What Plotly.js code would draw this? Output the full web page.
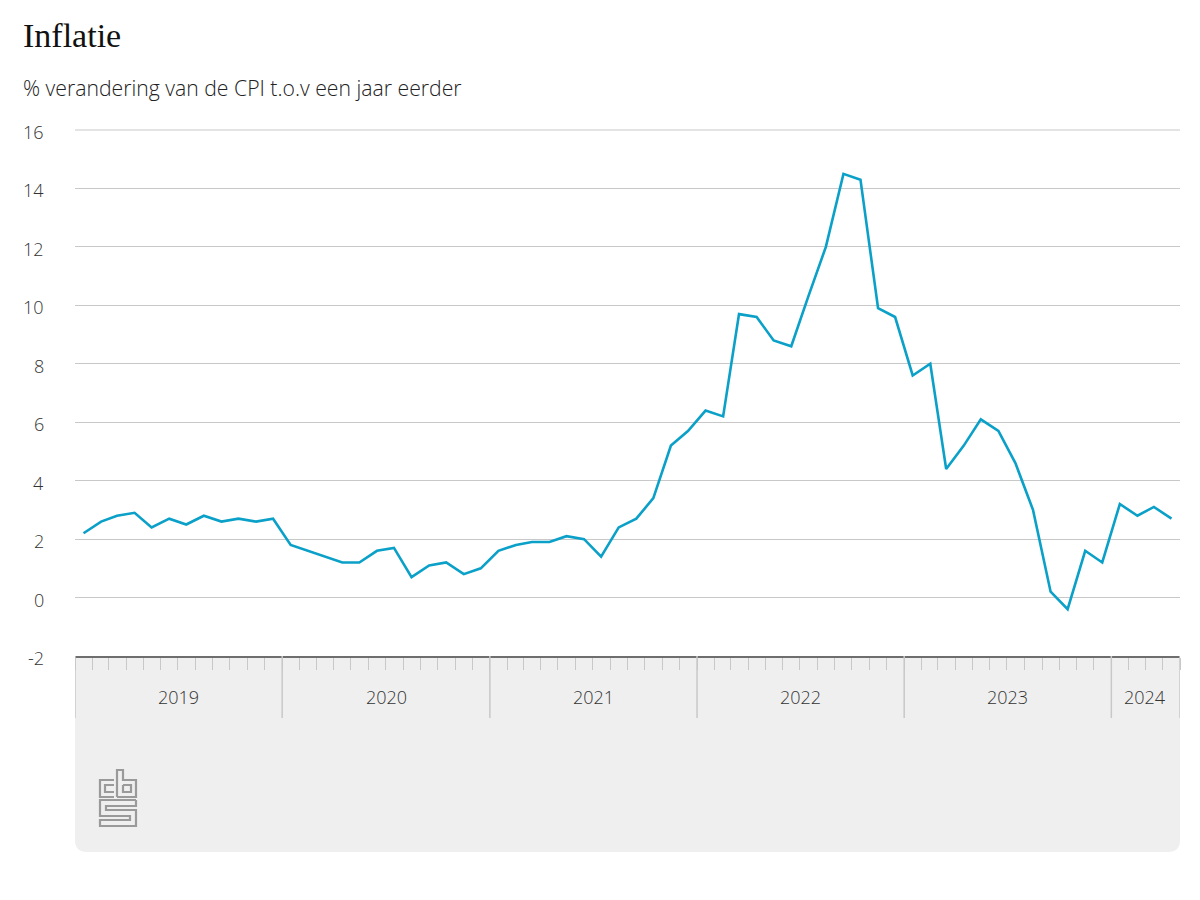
<!DOCTYPE html>
<html>
<head>
<meta charset="utf-8">
<script src="https://cdn.plot.ly/plotly-3.0.1.min.js"></script>
<style>
  html, body { margin: 0; padding: 0; background: #ffffff; }
  #chart { width: 1200px; height: 900px; }
</style>
</head>
<body>
<div id="chart"></div>
<script>
// ---- Data: CPI inflation, % change vs. one year earlier ----
const startMonth = '2019-01';
const inflatie2019 = [2.2, 2.6, 2.8, 2.9, 2.4, 2.7, 2.5, 2.8, 2.6, 2.7, 2.6, 2.7];
const inflatie2020 = [1.8, 1.6, 1.4, 1.2, 1.2, 1.6, 1.7, 0.7, 1.1, 1.2, 0.8, 1.0];
const inflatie2021 = [1.6, 1.8, 1.9, 1.9, 2.1, 2.0, 1.4, 2.4, 2.7, 3.4, 5.2, 5.7];
const inflatie2022 = [6.4, 6.2, 9.7, 9.6, 8.8, 8.6, 10.3, 12.0, 14.5, 14.3, 9.9, 9.6];
const inflatie2023 = [7.6, 8.0, 4.4, 5.2, 6.1, 5.7, 4.6, 3.0, 0.2, -0.4, 1.6, 1.2];
const inflatie2024 = [3.2, 2.8, 3.1, 2.7];
const jaren = ['2019', '2020', '2021', '2022', '2023', '2024'];
const yTicks = [-2, 0, 2, 4, 6, 8, 10, 12, 14, 16];
const yTickText = ['-2', '0', '2', '4', '6', '8', '10', '12', '14', '16'];

const waarden = [].concat(inflatie2019, inflatie2020, inflatie2021, inflatie2022, inflatie2023, inflatie2024);

// month dates (mid-month positions)
function pad(n) { return (n < 10 ? '0' : '') + n; }
const maanden = [];
{
  let y = parseInt(startMonth.slice(0, 4)), m = parseInt(startMonth.slice(5, 7));
  for (let i = 0; i < waarden.length; i++) {
    maanden.push(y + '-' + pad(m) + '-16');
    m++; if (m > 12) { m = 1; y++; }
  }
}
const lastY = parseInt(maanden[maanden.length - 1].slice(0, 4));
const lastM = parseInt(maanden[maanden.length - 1].slice(5, 7));
const endDate = (lastM === 12 ? (lastY + 1) + '-01' : lastY + '-' + pad(lastM + 1)) + '-01';
const startDate = startMonth + '-01';

// ---- pixel -> paper helpers for decorations ----
const W = 1200, H = 900;
const M = { l: 75, r: 20, t: 130, b: 244 };
const PW = W - M.l - M.r, PH = H - M.t - M.b;
const px = x => (x - M.l) / PW;
const py = y => (H - M.b - y) / PH;
function pathFromPts(pts) {
  return pts.map((p, i) => (i === 0 ? 'M' : 'L') + px(p[0]).toFixed(5) + ',' + py(p[1]).toFixed(5)).join(' ');
}

const shapes = [];
// grey footer box with rounded bottom corners
{
  const x0 = 75, x1 = 1180, y0 = 656, y1 = 852, r = 12;
  const d = 'M' + px(x0) + ',' + py(y0) +
    ' L' + px(x1) + ',' + py(y0) +
    ' L' + px(x1) + ',' + py(y1 - r) +
    ' Q' + px(x1) + ',' + py(y1) + ' ' + px(x1 - r) + ',' + py(y1) +
    ' L' + px(x0 + r) + ',' + py(y1) +
    ' Q' + px(x0) + ',' + py(y1) + ' ' + px(x0) + ',' + py(y1 - r) + ' Z';
  shapes.push({ type: 'path', xref: 'paper', yref: 'paper', path: d, fillcolor: '#efefef', line: { width: 0 }, layer: 'below' });
}
// top gridline at the plot edge (Plotly omits it there)
shapes.push({ type: 'line', xref: 'paper', yref: 'paper', x0: 0, x1: 1, y0: 1, y1: 1,
  line: { color: '#c8c8c8', width: 1 }, layer: 'above' });
// year separators
const sepDates = jaren.map(j => j + '-01-01').concat([endDate]);
sepDates.forEach(d => {
  shapes.push({ type: 'line', xref: 'x', yref: 'paper', x0: d, x1: d, y0: 0, y1: py(718),
    line: { color: '#c8c8c8', width: 1.5 }, layer: 'above' });
});
// CBS logo (outline maze-style letters)
const logoColor = '#9a9a9a';
const logoPaths = [
  [[114, 780], [100, 780], [100, 797], [114, 797]],
  [[114, 785], [105, 785], [105, 792], [114, 792]],
  [[117, 797], [117, 770], [123, 770], [123, 780], [136, 780], [136, 797], [117, 797]],
  [[123, 785], [131, 785], [131, 792], [123, 792], [123, 785]],
  [[136, 800], [100, 800], [100, 816], [130, 816], [130, 820], [100, 820], [100, 826], [136, 826], [136, 810], [106, 810], [106, 806], [136, 806], [136, 800]]
];
logoPaths.forEach(p => shapes.push({ type: 'path', xref: 'paper', yref: 'paper', path: pathFromPts(p),
  line: { color: logoColor, width: 2.2 }, fillcolor: 'rgba(0,0,0,0)', layer: 'above' }));

const sansFont = 'Open Sans, sans-serif';
const labelFont = { family: sansFont, size: 18, color: '#333', weight: 300 };
// year label annotations, centred on visible part of each year
const annotations = jaren.map(j => {
  const a = new Date(j + '-01-01T00:00:00Z').getTime();
  let b = new Date((parseInt(j) + 1) + '-01-01T00:00:00Z').getTime();
  const e = new Date(endDate + 'T00:00:00Z').getTime();
  if (b > e) b = e;
  const mid = new Date((a + b) / 2).toISOString().slice(0, 10);
  return { x: mid, xref: 'x', y: py(697), yref: 'paper', text: j, showarrow: false,
    xanchor: 'center', yanchor: 'middle', font: labelFont };
});
// y-axis tick labels (placed away from the plot edge)
yTicks.forEach((v, i) => annotations.push({ x: px(46), xref: 'paper', y: v, yref: 'y', yshift: -2,
  text: yTickText[i], showarrow: false, xanchor: 'right', yanchor: 'middle', font: labelFont }));
annotations.push({ x: px(21), xref: 'paper', y: py(36), yref: 'paper', text: 'Inflatie', showarrow: false,
  xanchor: 'left', yanchor: 'middle', font: { family: 'Liberation Serif, serif', size: 34, color: '#111' } });
annotations.push({ x: px(21), xref: 'paper', y: py(87), yref: 'paper', text: '% verandering van de CPI t.o.v een jaar eerder', showarrow: false,
  xanchor: 'left', yanchor: 'middle', font: { family: sansFont, size: 21.2, color: '#222', weight: 300 } });

const trace = {
  x: maanden, y: waarden, type: 'scatter', mode: 'lines',
  line: { color: '#0aa0c8', width: 2.6 }, hoverinfo: 'x+y'
};

const layout = {
  width: W, height: H,
  margin: M,
  paper_bgcolor: '#ffffff', plot_bgcolor: '#ffffff',
  showlegend: false,
  xaxis: {
    type: 'date', range: [startDate, endDate],
    tickmode: 'linear', tick0: startDate, dtick: 'M1',
    ticks: 'outside', ticklen: 12, tickwidth: 1, tickcolor: '#c8c8c8',
    showticklabels: false, showgrid: false, zeroline: false,
    showline: true, linecolor: '#6e6e6e', linewidth: 2, fixedrange: true
  },
  yaxis: {
    range: [-2, 16], tickmode: 'array', tickvals: yTicks,
    ticks: '', showticklabels: false,
    showgrid: true, gridcolor: '#c8c8c8', gridwidth: 1,
    zeroline: false, showline: false, fixedrange: true
  },
  shapes: shapes,
  annotations: annotations
};

Plotly.newPlot('chart', [trace], layout, { displayModeBar: false, staticPlot: true });
</script>
</body>
</html>
